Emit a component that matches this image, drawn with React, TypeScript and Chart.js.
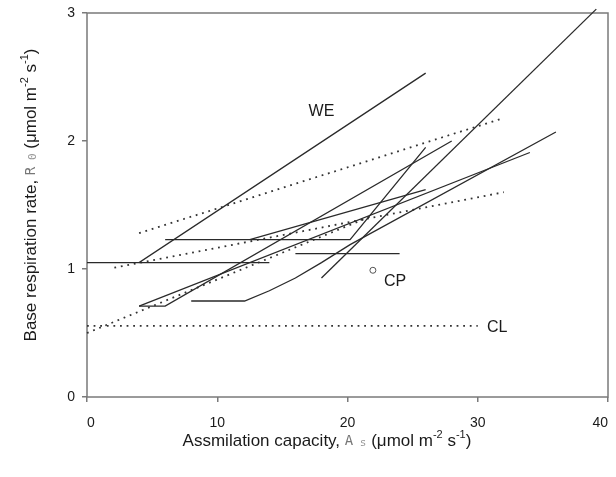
import React, { useEffect, useRef } from "react";
import { Chart, registerables } from "chart.js";
Chart.register(...registerables);

// axis ticks
const X_TICKS = [0, 10, 20, 30, 40];
const Y_TICKS = [0, 1, 2, 3];

// solid series (x, y pairs)
const WE_X = [0, 4, 26];
const WE_Y = [1.05, 1.05, 2.53];
const FLAT105_X = [4, 14];
const FLAT105_Y = [1.05, 1.05];
const STEEP_X = [18, 39.1];
const STEEP_Y = [0.93, 3.03];
const FLAT112_X = [16, 24];
const FLAT112_Y = [1.12, 1.12];
const G_X = [6, 12.5, 26];
const G_Y = [1.23, 1.23, 1.62];
const C_X = [12.5, 20.2, 26];
const C_Y = [1.23, 1.23, 1.95];
const T1_X = [4, 34];
const T1_Y = [0.71, 1.91];
const T2_X = [4, 6, 28];
const T2_Y = [0.71, 0.71, 2.0];
const E_X = [8, 12.1, 14, 16, 18, 20.2, 36];
const E_Y = [0.75, 0.75, 0.83, 0.93, 1.05, 1.19, 2.07];

// dotted series
const DA_X = [4, 32];
const DA_Y = [1.28, 2.18];
const DB_X = [2.1, 32];
const DB_Y = [1.01, 1.6];
const DC_X = [0, 22];
const DC_Y = [0.5, 1.42];
const CL_X = [0, 30];
const CL_Y = [0.555, 0.555];

// single point
const CP_X = [21.95];
const CP_Y = [0.99];

// text labels
const LABELS = ["WE", "CP", "CL"];
const LABEL_X = [18, 23.65, 31.5];
const LABEL_Y = [2.23, 0.9, 0.545];

const pts = (xs: number[], ys: number[]) => xs.map((x, i) => ({ x, y: ys[i] }));

const LINE = "#2a2a2a";
const AXIS = "#7a7a7a";
const FONT = "'Liberation Sans', Arial, sans-serif";

const solid = (xs: number[], ys: number[]) => ({
  data: pts(xs, ys),
  borderColor: LINE,
  borderWidth: 1.3,
  pointRadius: 0,
  fill: false,
  tension: 0,
});
const dotted = (xs: number[], ys: number[]) => ({
  data: pts(xs, ys),
  borderColor: "#333",
  borderWidth: 1.8,
  borderDash: [1.8, 4.8],
  borderCapStyle: "butt",
  pointRadius: 0,
  fill: false,
  tension: 0,
});

type Seg = { t: string; f?: string; dy?: number; c?: string };

function drawSegs(ctx: CanvasRenderingContext2D, segs: Seg[], cx: number, cy: number) {
  let total = 0;
  for (const s of segs) {
    ctx.font = s.f || `17px ${FONT}`;
    total += ctx.measureText(s.t).width;
  }
  let x = cx - total / 2;
  for (const s of segs) {
    ctx.font = s.f || `17px ${FONT}`;
    ctx.fillStyle = s.c || "#1a1a1a";
    ctx.fillText(s.t, x, cy + (s.dy || 0));
    x += ctx.measureText(s.t).width;
  }
}

const decorPlugin = {
  id: "decor",
  beforeDatasetsDraw(chart: any) {
    const { ctx, chartArea } = chart;
    ctx.save();
    ctx.strokeStyle = AXIS;
    ctx.lineWidth = 1.5;
    ctx.strokeRect(chartArea.left, chartArea.top, chartArea.right - chartArea.left, chartArea.bottom - chartArea.top);
    ctx.restore();
  },
  afterDraw(chart: any) {
    const { ctx } = chart;
    const xs = chart.scales.x;
    const ys = chart.scales.y;
    ctx.save();
    ctx.textBaseline = "middle";
    ctx.textAlign = "left";
    ctx.font = `16px ${FONT}`;
    ctx.fillStyle = "#1a1a1a";
    LABELS.forEach((l, i) => {
      const px = xs.getPixelForValue(LABEL_X[i]);
      const py = ys.getPixelForValue(LABEL_Y[i]);
      const w = ctx.measureText(l).width;
      ctx.fillText(l, px - w / 2, py);
    });
    const sup = `11px ${FONT}`;
    const mono = `14px 'DejaVu Sans Mono', monospace`;
    const monoSmall = `11px 'DejaVu Sans Mono', monospace`;
    // x title
    drawSegs(
      ctx,
      [
        { t: "Assmilation capacity, " },
        { t: "A", f: mono, c: "#777" },
        { t: " s", f: monoSmall, c: "#999", dy: 2 },
        { t: " (μmol m" },
        { t: "-2", f: sup, dy: -6 },
        { t: " s" },
        { t: "-1", f: sup, dy: -6 },
        { t: ")" },
      ],
      327,
      441
    );
    // y title
    ctx.translate(31, 195);
    ctx.rotate(-Math.PI / 2);
    drawSegs(
      ctx,
      [
        { t: "Base respiration rate, " },
        { t: "R", f: mono, c: "#777" },
        { t: " 0", f: monoSmall, c: "#999", dy: 2 },
        { t: " (μmol m" },
        { t: "-2", f: sup, dy: -6 },
        { t: " s" },
        { t: "-1", f: sup, dy: -6 },
        { t: ")" },
      ],
      0,
      0
    );
    ctx.restore();
  },
};

export default function App() {
  const ref = useRef<HTMLCanvasElement>(null);
  useEffect(() => {
    const canvas = ref.current!;
    const chart = new Chart(canvas, {
      type: "line",
      data: {
        datasets: [
          solid(WE_X, WE_Y),
          solid(FLAT105_X, FLAT105_Y),
          solid(STEEP_X, STEEP_Y),
          solid(FLAT112_X, FLAT112_Y),
          solid(G_X, G_Y),
          solid(C_X, C_Y),
          solid(T1_X, T1_Y),
          solid(T2_X, T2_Y),
          solid(E_X, E_Y),
          dotted(DA_X, DA_Y),
          dotted(DB_X, DB_Y),
          dotted(DC_X, DC_Y),
          dotted(CL_X, CL_Y),
          {
            data: pts(CP_X, CP_Y),
            showLine: false,
            pointRadius: 3,
            pointBorderWidth: 1,
            pointBorderColor: "#555",
            pointBackgroundColor: "#fff",
          },
        ] as any,
      },
      options: {
        animation: false,
        responsive: false,
        clip: false as any,
        layout: { padding: { left: 0, top: 13, right: 8, bottom: 0 } },
        plugins: { legend: { display: false }, tooltip: { enabled: false } },
        scales: {
          x: {
            type: "linear",
            min: 0,
            max: 40,
            afterFit: (s: any) => {
              s.height = 80;
              s.paddingLeft = 0;
              s.paddingRight = 0;
            },
            afterBuildTicks: (s: any) => {
              s.ticks = X_TICKS.map((v) => ({ value: v }));
            },
            ticks: { color: "#1a1a1a", font: { family: FONT, size: 14 }, padding: 13, maxRotation: 0, align: "inner" },
            grid: { drawOnChartArea: false, tickLength: 5, color: AXIS, lineWidth: 1.5 },
            border: { display: false },
          },
          y: {
            type: "linear",
            min: 0,
            max: 3,
            afterFit: (s: any) => {
              s.width = 87;
              s.paddingTop = 0;
              s.paddingBottom = 0;
            },
            afterBuildTicks: (s: any) => {
              s.ticks = Y_TICKS.map((v) => ({ value: v }));
            },
            ticks: { color: "#1a1a1a", font: { family: FONT, size: 14 }, padding: 7 },
            grid: { drawOnChartArea: false, tickLength: 5, color: AXIS, lineWidth: 1.5 },
            border: { display: false },
          },
        },
      },
      plugins: [decorPlugin],
    });
    return () => chart.destroy();
  }, []);
  return (
    <div style={{ position: "absolute", left: 0, top: 0, width: 616, height: 477, background: "#fff" }}>
      <canvas ref={ref} width={616} height={477} style={{ width: 616, height: 477, display: "block" }} />
    </div>
  );
}
